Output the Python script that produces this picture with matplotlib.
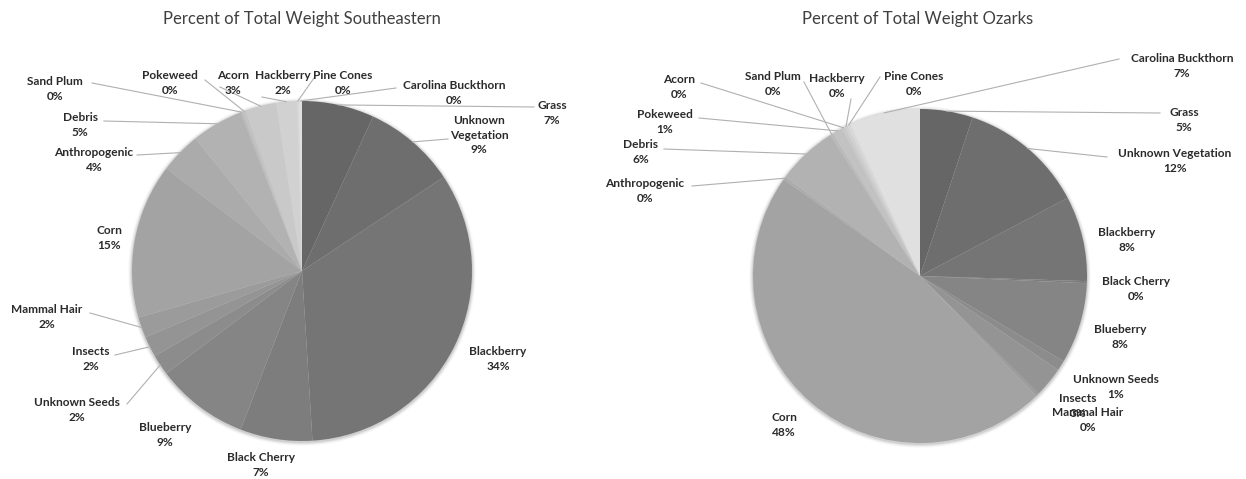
import numpy as np
import matplotlib
matplotlib.use("Agg")
import matplotlib.pyplot as plt
from matplotlib.patches import Circle

W, H = 1246, 479

categories = ["Grass", "Unknown Vegetation", "Blackberry", "Black Cherry", "Blueberry",
              "Unknown Seeds", "Insects", "Mammal Hair", "Corn", "Anthropogenic", "Debris",
              "Sand Plum", "Pokeweed", "Acorn", "Hackberry", "Pine Cones", "Carolina Buckthorn"]

# percent of total weight
southeastern = [7, 9, 34, 7, 9, 2, 2, 2, 15, 4, 5, 0.2, 0.3, 3, 2, 0.2, 0.3]
ozarks = [5.2, 12.4, 8.4, 0.2, 8, 1, 3, 0.3, 48, 0.3, 6, 0.3, 1, 0.3, 0.3, 0.3, 7]

colors = ["#666666", "#6e6e6e", "#757575", "#7d7d7d", "#858585", "#8c8c8c", "#949494",
          "#9b9b9b", "#a3a3a3", "#ababab", "#b2b2b2", "#bababa", "#c2c2c2", "#c9c9c9",
          "#d1d1d1", "#d8d8d8", "#e0e0e0"]

# label layout in pixels (x, y of text block centre) and leader line start (or None)
se_text = [(552, 113), (479, 135), (498, 359), (261, 465), (165, 435), (77, 410), (91, 359),
           (47, 317), (109, 238), (94, 160), (80, 125), (55, 89), (170, 83), (233, 83),
           (283, 83), (343, 83), (454, 93)]
se_attach = [(534, 107), (448, 139), None, None, None, (127, 404), (115, 355), (90, 313), None,
             (137, 155), (104, 121), (92, 83), (205, 80), (220, 87), (262, 97), (314, 78), (396, 88)]

oz_text = [(1184, 120), (1175, 161), (1127, 240), (1136, 289), (1120, 337), (1116, 387),
           (1078, 406), (1088, 420), (784, 425), (645, 191), (641, 152), (773, 84), (665, 122),
           (679, 87), (837, 86), (914, 84), (1182, 66)]
oz_attach = [(1160, 113), (1107, 157), None, None, None, None, None, None, None,
             (692, 186), (664, 149), (804, 82), (699, 118), (701, 83), (851, 99), (880, 77), (1119, 59)]

plt.rcParams["font.family"] = ["Lato", "DejaVu Sans"]

fig = plt.figure(figsize=(W / 100, H / 100), dpi=100)
ax = fig.add_axes([0, 0, 1, 1])


def draw_pie(values, cx, cy, r, title, text_pos, attach, tx):
    cyd = H - cy
    # soft shadow
    for k, a in zip([4, 3, 2, 1], [0.02, 0.04, 0.06, 0.08]):
        ax.add_patch(Circle((cx, cyd - 1), r + k, color="black", alpha=a, lw=0, zorder=0))
    ax.pie(values, colors=colors, startangle=90, counterclock=False, center=(cx, cyd),
           radius=r, frame=True, wedgeprops=dict(linewidth=0))
    total = sum(values)
    cum = np.cumsum([0] + list(values))
    for i, name in enumerate(categories):
        label = name
        if name == "Unknown Vegetation" and cx < 600:
            label = "Unknown\nVegetation"
        x, y = text_pos[i]
        ax.text(x, H - y, f"{label}\n{values[i]:.0f}%", ha="center", va="center",
                fontsize=8.6, fontweight="bold", color="#2b2b2b", linespacing=1.35, zorder=5)
        if attach[i] is not None:
            ang = np.deg2rad(360 * (cum[i] + values[i] / 2) / total)
            ax_, ay_ = cx + r * np.sin(ang), cyd + r * np.cos(ang)
            px, py = attach[i]
            ax.plot([px, ax_], [H - py, ay_], color="#b0b0b0", lw=0.8, zorder=4)
    ax.text(tx, H - 19, title, ha="center", va="center", fontsize=12, color="#404040")


draw_pie(southeastern, 302, 271, 170, "Percent of Total Weight Southeastern", se_text, se_attach, 302)
draw_pie(ozarks, 920, 276, 167, "Percent of Total Weight Ozarks", oz_text, oz_attach, 918)

ax.set_xlim(0, W)
ax.set_ylim(0, H)
ax.set_aspect("auto")
ax.axis("off")

fig.savefig("out.png", dpi=100)
